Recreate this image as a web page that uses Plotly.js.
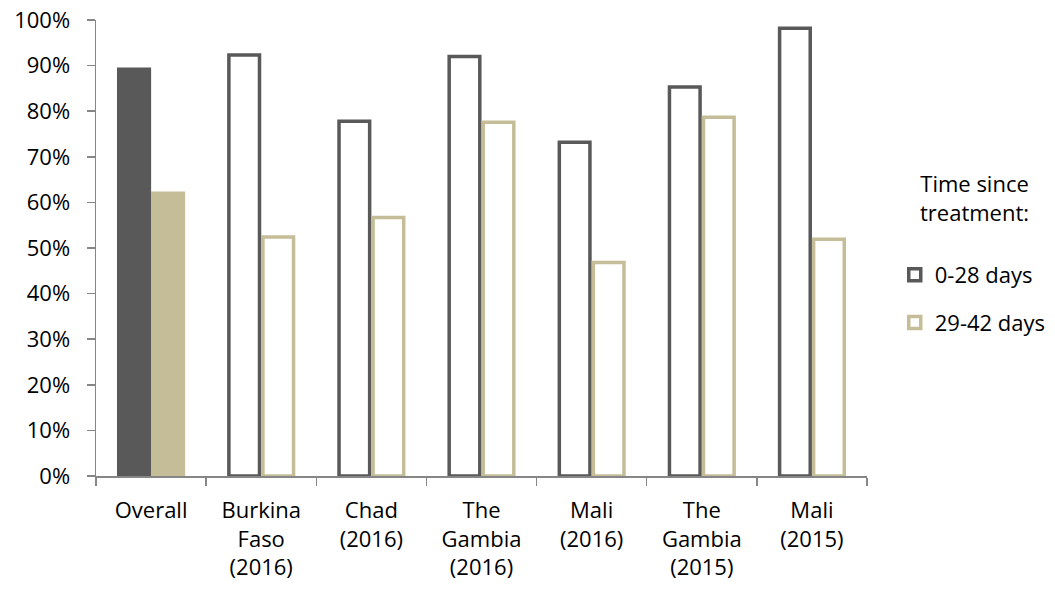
<!DOCTYPE html>
<html>
<head>
<meta charset="utf-8">
<script src="https://cdn.plot.ly/plotly-3.0.1.min.js"></script>
<style>
  html, body { margin: 0; padding: 0; background: #fff; }
  #chart { width: 1055px; height: 594px; }
</style>
</head>
<body>
<div id="chart"></div>
<script>
// categories and values (percent)
let categories = ['Overall', 'Burkina<br>Faso<br>(2016)', 'Chad<br>(2016)', 'The<br>Gambia<br>(2016)',
                  'Mali<br>(2016)', 'The<br>Gambia<br>(2015)', 'Mali<br>(2015)'];
let days_0_28 = [89.2, 92.3, 77.8, 92.0, 73.2, 85.3, 98.2];
let days_29_42 = [62.0, 52.4, 56.7, 77.6, 46.8, 78.7, 51.9];
let series_names = ['0-28 days', '29-42 days'];

let dark = '#595959';
let tan = '#C4BD97';
let font_family = '"Open Sans", sans-serif';

let target_div = document.getElementById('chart');

// Overall bars are filled, the study sites are outlined only
let traces = [
	{
		type: 'bar', name: series_names[0], x: categories.slice(0, 1), y: days_0_28.slice(0, 1),
		offsetgroup: 'early', showlegend: false, hoverinfo: 'y',
		marker: { color: dark, line: { color: dark, width: 3.5 } }
	},
	{
		type: 'bar', name: series_names[0], x: categories.slice(1), y: days_0_28.slice(1),
		offsetgroup: 'early', legendgroup: 'a', hoverinfo: 'y',
		marker: { color: 'rgba(255,255,255,1)', line: { color: dark, width: 3.5 } }
	},
	{
		type: 'bar', name: series_names[1], x: categories.slice(0, 1), y: days_29_42.slice(0, 1),
		offsetgroup: 'late', showlegend: false, hoverinfo: 'y',
		marker: { color: tan, line: { color: tan, width: 3.5 } }
	},
	{
		type: 'bar', name: series_names[1], x: categories.slice(1), y: days_29_42.slice(1),
		offsetgroup: 'late', legendgroup: 'b', hoverinfo: 'y',
		marker: { color: 'rgba(255,255,255,1)', line: { color: tan, width: 3.5 } }
	}
];

let layout =
{
	width: 1055,
	height: 594,
	paper_bgcolor: '#fff',
	plot_bgcolor: '#fff',
	font: { family: font_family, size: 22, color: '#000' },
	margin: { l: 96, r: 188, t: 20, b: 118, autoexpand: false },
	barmode: 'group',
	bargap: 0.382,
	bargroupgap: 0.1,
	xaxis: {
		type: 'category',
		categoryorder: 'array',
		categoryarray: categories,
		showline: true, linecolor: '#868686', linewidth: 1.5,
		ticks: 'outside', tickson: 'boundaries', ticklen: 8, tickcolor: '#868686', tickwidth: 1.5,
		ticklabelstandoff: 14,
		tickangle: 0,
		showgrid: false, zeroline: false,
		fixedrange: true
	},
	yaxis: {
		range: [0, 100],
		dtick: 10,
		ticksuffix: '%',
		showline: true, linecolor: '#868686', linewidth: 1.5,
		ticks: 'outside', ticklen: 8, tickcolor: '#868686', tickwidth: 1.5,
		ticklabelstandoff: 12,
		showgrid: false, zeroline: false,
		fixedrange: true
	},
	showlegend: true,
	legend: {
		x: 1.036, xref: 'paper', xanchor: 'left',
		y: 0.388, yanchor: 'middle',
		traceorder: 'grouped',
		tracegroupgap: 16,
		font: { family: font_family, size: 22, color: '#000' },
		itemclick: false, itemdoubleclick: false
	},
	annotations: [
		{
			text: 'Time since<br>treatment:',
			xref: 'paper', yref: 'paper',
			x: 1.14, y: 0.61,
			xanchor: 'center', yanchor: 'middle',
			showarrow: false,
			align: 'center',
			font: { family: font_family, size: 22, color: '#000' }
		}
	]
};

Plotly.newPlot(target_div, traces, layout, { displayModeBar: false, staticPlot: true });
</script>
</body>
</html>
